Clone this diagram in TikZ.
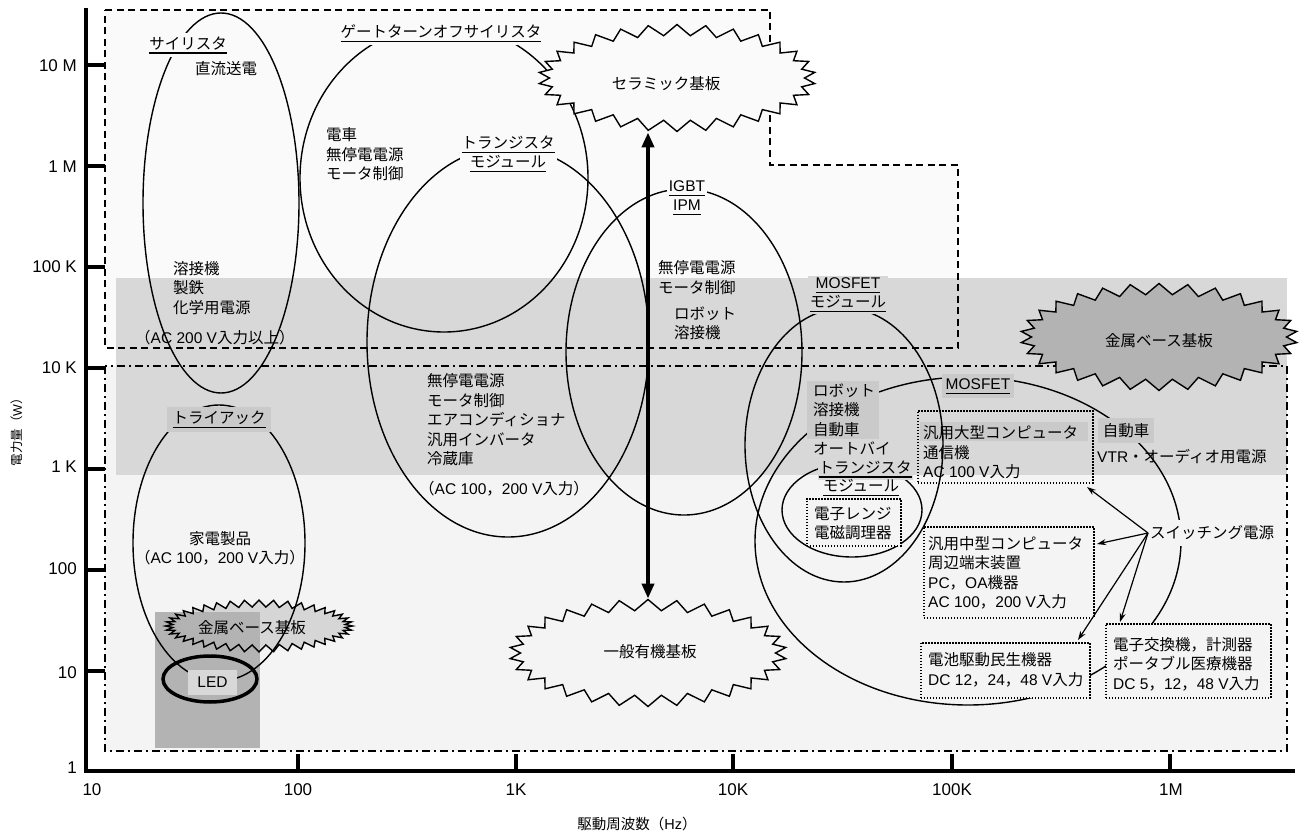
\documentclass[tikz,border=0pt]{standalone}
\usepackage{fontspec}
\setmainfont{Liberation Sans}
\newfontfamily\jpf{Noto Sans CJK JP}
\usetikzlibrary{shapes.symbols,arrows.meta}
\definecolor{bgup}{HTML}{FAFAFA}
\definecolor{bglo}{HTML}{F4F4F4}
\definecolor{band}{HTML}{D8D8D8}
\definecolor{hl}{HTML}{CACACA}
\definecolor{dk}{HTML}{B3B3B3}
\definecolor{sbc}{HTML}{D6D6D6}
\newsavebox\ulbox
\newcommand\Lt[1]{{\rmfamily #1}}
\newcommand\Ul[1]{\sbox\ulbox{#1}\rlap{\rule[-4.4pt]{\wd\ulbox}{1.1pt}}\usebox\ulbox}
\newcommand\fsd{\fontsize{15.5}{19.5}\jpf}
\newcommand\fsa{\fontsize{17}{20}\selectfont}
\begin{document}
\begin{tikzpicture}[x=1pt,y=-1pt,
  t/.style={inner sep=0pt, font=\fsd},
  tl/.style={t, align=left, anchor=west},
  tc/.style={t, align=center},
  ell/.style={line width=1.4pt},
  dbox/.style={draw, line width=1.5pt, dash pattern=on 1.5pt off 1.5pt, inner sep=0pt, anchor=north west},
  dashbox/.style={line width=1.4pt, dash pattern=on 7pt off 4.5pt},
  dotdash/.style={line width=1.4pt, dash pattern=on 8pt off 4pt on 2pt off 4pt},
  burst/.style={starburst, random starburst=0, starburst points=30, starburst point height=11pt, inner sep=0pt, line width=1.4pt, minimum width=277pt, minimum height=107pt},
  smallburst/.style={burst, starburst points=40, starburst point height=7pt, minimum width=187pt, minimum height=52pt},
  axis/.style={line width=4pt},
  swarrow/.style={line width=1.2pt, -{Stealth[length=9pt,width=6pt]}}
]
\useasboundingbox (0,0) rectangle (1299,832);
\fill[white] (0,0) rectangle (1299,832);
% region fills
\fill[bgup] (105,10) -- (770,10) -- (770,165) -- (958,165) -- (958,348) -- (105,348) -- cycle;
\fill[bglo] (105,366) rectangle (1287,751);
\fill[band] (116,278) rectangle (1287,475);
% small metal-base starburst (fill), dark LED area, outline
\node[smallburst, fill=sbc] (msf) at (259,626) {};
\fill[dk] (155,612) rectangle (260,748);
\node[smallburst, draw] (ms) at (259,626) {};
\node[fill=hl, minimum width=168pt, minimum height=19pt, inner sep=0pt] (hlg) at (1004,431.5) {};
% box outlines
\draw[dashbox] (105,10) -- (770,10) -- (770,165) -- (958,165) -- (958,348) -- (105,348) -- cycle;
\draw[dotdash] (105,366) rectangle (1287,751);
% ellipses
\draw[ell] (221,203) ellipse [x radius=78pt, y radius=190pt];
\draw[ell] (444,178) ellipse [x radius=144pt, y radius=154pt];
\draw[ell] (508,342) ellipse [x radius=141pt, y radius=195pt];
\draw[ell] (684,352) ellipse [x radius=118pt, y radius=163pt];
\draw[ell] (219,543) ellipse [x radius=86pt, y radius=138pt];
\draw[line width=3.5pt] (210,679) ellipse [x radius=47pt, y radius=23pt];
\draw[ell] (844,445) ellipse [x radius=99pt, y radius=137pt];
\draw[ell] (852,510) ellipse [x radius=70pt, y radius=47pt];
\draw[ell] (968,541) ellipse [x radius=213pt, y radius=164pt];
% big starbursts
\node[burst, draw, fill=bgup] (cer) at (677,78) {};
\node[burst, draw, fill=bglo] (gen) at (648,653) {};
\node[burst, draw, fill=dk] (mbig) at (1159,337) {};
\node[t] at (666,84) {セラミック基板};
\node[t] at (650,652) {一般有機基板};
\node[t] at (1159,341) {金属ベース基板};
\node[t] at (252,628) {金属ベース基板};
% upper labels
\node[t, fill=bgup, inner xsep=2pt, inner ysep=3pt] (thyl) at (188,45) {\Ul{サイリスタ}};
\node[t] (dc) at (226,69) {直流送電};
\node[t, fill=bgup, inner xsep=2pt, inner ysep=3pt] (gtol) at (441,33) {\Ul{ゲートターンオフサイリスタ}};
\node[tl] (tr1) at (326,154.5) {電車\\無停電電源\\モータ制御};
\node[tc, fill=bgup, inner sep=2pt] (trml) at (508,154) {\Ul{トランジスタ}\\\Ul{モジュール}};
\node[tl] (ind) at (173,288) {溶接機\\製鉄\\化学用電源};
\node[tl] (ac200) at (135,338) {（\Lt{AC 200 V}入力以上）};
\node[tc, fill=bgup, inner sep=2pt] (igbtl) at (687,198) {\Ul{\Lt{IGBT}}\\\Ul{\Lt{IPM}}};
\node[tl] (ups2) at (658,277.5) {無停電電源\\モータ制御};
\node[tl] (rob2) at (674,323.5) {ロボット\\溶接機};
% middle labels
\node[tl] (ups3) at (427,420) {無停電電源\\モータ制御\\エアコンディショナ\\汎用インバータ\\冷蔵庫};
\node[tl] (ac100a) at (419,489) {（\Lt{AC 100}，\Lt{200 V}入力）};
\node[t, fill=hl, minimum width=104pt, minimum height=25pt] (triacl) at (219,419.5) {\Ul{トライアック}};
\node[tc] (home) at (220,548.5) {家電製品\\（\Lt{AC 100}，\Lt{200 V}入力）};
\node[t, fill=band, minimum width=49pt, minimum height=25pt] (ledl) at (212.5,682.5) {\Lt{LED}};
% right labels
\node[tc, fill=band, inner sep=2pt] (mmodl) at (848,295) {\Ul{\Lt{MOSFET}}\\\Ul{モジュール}};
\node[t, fill=hl, anchor=north west, minimum width=72pt, minimum height=58pt, text width=60pt, inner xsep=6pt, align=left] (robl) at (807,381) {ロボット\\溶接機\\自動車};
\node[tl] (bike) at (813,448) {オートバイ};
\node[t, fill=band, inner xsep=1pt, inner ysep=2pt] (trsl) at (865,469) {\Ul{トランジスタ}};
\node[t] (trsl2) at (861,488) {\Ul{モジュール}};
\node[dbox, fill=bglo, minimum width=94pt, minimum height=47pt] (rng) at (806,498) {};
\node[tl] at (814,523.5) {電子レンジ\\電磁調理器};
\node[t, fill=hl, minimum width=72pt, minimum height=24pt] (mosl) at (978,386) {\Ul{\Lt{MOSFET}}};
\node[dbox, minimum width=175pt, minimum height=72pt] (lg) at (917,410) {};
\node[tl] at (923,452.5) {汎用大型コンピュータ\\通信機\\\Lt{AC 100 V}入力};
\node[t, fill=hl, minimum width=56pt, minimum height=25pt] (car) at (1126,430.5) {自動車};
\node[tl] (vtr) at (1097,457) {\Lt{VTR}・オーディオ用電源};
\node[dbox, fill=bglo, minimum width=170pt, minimum height=91pt] (mid) at (923,526) {};
\node[tl] at (928,573) {汎用中型コンピュータ\\周辺端末装置\\\Lt{PC}，\Lt{OA}機器\\\Lt{AC 100}，\Lt{200 V}入力};
\node[dbox, fill=bglo, minimum width=169pt, minimum height=55pt] (bat) at (920,642) {};
\node[tl, text depth=0pt] at (928,669) {電池駆動民生機器\\\Lt{DC 12}，\Lt{24}，\Lt{48 V}入力};
\node[dbox, fill=bglo, minimum width=165pt, minimum height=74pt] (exch) at (1105,623) {};
\node[tl] at (1113,664) {電子交換機，計測器\\ポータブル医療機器\\\Lt{DC 5}，\Lt{12}，\Lt{48 V}入力};
\node[t, fill=bglo, anchor=west, inner xsep=2pt, inner ysep=6pt] (sw) at (1148,533) {スイッチング電源};
% switching arrows
\coordinate (a1) at (1087,487);
\coordinate (a2) at (1097,544);
\coordinate (a3) at (1078,640);
\coordinate (a4) at (1120,622);
\foreach \c in {a1,a2,a3,a4} \draw[swarrow] (sw.west) -- (\c);
% substrate arrow
\draw[line width=4.5pt, {Triangle[length=15pt,width=12pt]}-{Triangle[length=15pt,width=12pt]}] (gen.north |- cer.south) -- (gen.north);
% axes
\draw[axis] (86,8) -- (86,771) -- (1295,771);
\foreach \y in {65,166,267,368,469,570,671} \draw[axis] (86,\y) -- (105,\y);
\foreach \x in {298,516,733,952,1170} \draw[axis] (\x,771) -- (\x,754);
\foreach \y/\l in {66/10 M,167/1 M,267/100 K,368/10 K,467/1 K,569/100,673/10,768/1}
  \node[anchor=east, font=\fsa, inner sep=0pt] at (77,\y) {\l};
\foreach \x/\l in {92/10,298/100,516/1K,733/10K,952/100K,1171/1M}
  \node[font=\fsa, inner sep=0pt] at (\x,790) {\l};
\node[font=\fontsize{14.5}{17}\jpf, inner sep=0pt] (xt) at (637,824) {駆動周波数（\Lt{Hz}）};
\node[font=\fontsize{12.5}{15}\jpf, inner sep=0pt, rotate=90] (yt) at (17,429) {電力量（\Lt{W}）};
\end{tikzpicture}
\end{document}
